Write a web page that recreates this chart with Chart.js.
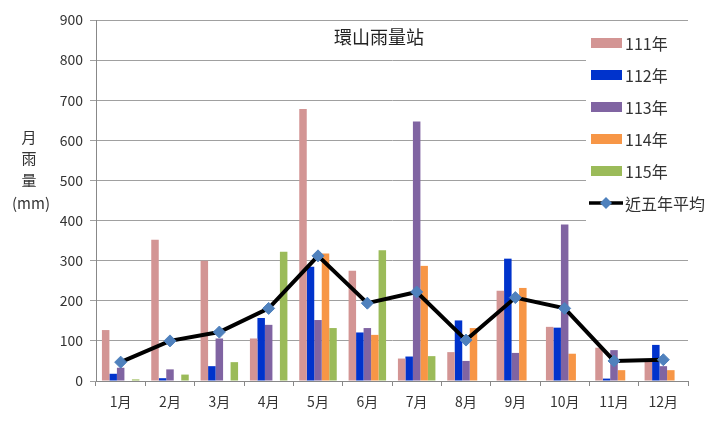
<!DOCTYPE html>
<html>
<head>
<meta charset="utf-8">
<script src="https://cdn.jsdelivr.net/npm/chart.js@4/dist/chart.umd.min.js"></script>
<style>
html,body{margin:0;padding:0;background:#fff;}
#wrap{width:710px;height:426px;position:relative;}
</style>
</head>
<body>
<div id="wrap"><canvas id="c" width="710" height="426"></canvas></div>
<script>
const months = ["1月","2月","3月","4月","5月","6月","7月","8月","9月","10月","11月","12月"];
const y111 = [127, 352, 300, 106, 678, 275, 56, 72, 225, 135, 83, 50];
const y112 = [18, 7, 37, 157, 285, 121, 61, 151, 305, 133, 6, 90];
const y113 = [33, 29, 106, 140, 152, 132, 647, 50, 70, 390, 77, 37];
const y114 = [0, 0, 0, 0, 318, 115, 287, 132, 232, 68, 27, 27];
const y115 = [4, 16, 47, 322, 132, 326, 62, 0, 0, 0, 0, 0];
const avg5 = [47, 100, 122, 181, 312, 194, 222, 102, 208, 181, 50, 53];
const yTicks = [0,100,200,300,400,500,600,700,800,900];
const chartTitle = "環山雨量站";
const yTitle = ["月","雨","量","(mm)"];

const colors = {y111:"#D39594", y112:"#0033CC", y113:"#8064A2", y114:"#F79646", y115:"#9BBB59", avg:"#000000", marker:"#4F81BD"};
const FONT = "'Noto Sans CJK TC','Noto Sans',sans-serif";

const legendItems = [
  {text:"111年", color:colors.y111, type:"bar"},
  {text:"112年", color:colors.y112, type:"bar"},
  {text:"113年", color:colors.y113, type:"bar"},
  {text:"114年", color:colors.y114, type:"bar"},
  {text:"115年", color:colors.y115, type:"bar"},
  {text:"近五年平均", color:colors.avg, type:"line"}
];

const decor = {
  id:"decor",
  afterDraw(chart){
    const ctx = chart.ctx, a = chart.chartArea;
    ctx.save();
    ctx.fillStyle = "#222";
    ctx.font = "18px " + FONT;
    ctx.textAlign = "center";
    ctx.textBaseline = "middle";
    ctx.fillText(chartTitle, 379, 37);
    ctx.font = "15px " + FONT;
    ctx.fillStyle = "#333";
    const ys = [137, 158, 180, 203];
    yTitle.forEach((t,i)=>{ ctx.fillText(t, i===3 ? 31 : 29, ys[i]); });
    ctx.fillStyle = "#fff";
    ctx.fillRect(586, 26, a.right - 586 + 1, 204);
    ctx.textAlign = "left";
    ctx.font = "16px " + FONT;
    legendItems.forEach((it,i)=>{
      const y = 43 + i*32;
      if(it.type==="bar"){
        ctx.fillStyle = it.color;
        ctx.fillRect(591, y-5, 31, 10);
      } else {
        ctx.strokeStyle = "#000"; ctx.lineWidth = 3.5;
        ctx.beginPath(); ctx.moveTo(589, y); ctx.lineTo(623, y); ctx.stroke();
        ctx.fillStyle = colors.marker;
        ctx.beginPath(); ctx.moveTo(606, y-6); ctx.lineTo(612, y); ctx.lineTo(606, y+6); ctx.lineTo(600, y); ctx.closePath(); ctx.fill();
      }
      ctx.fillStyle = "#333";
      ctx.fillText(it.text, 625, y+1);
    });
    ctx.restore();
  }
};

const barDs = (label, data, color) => ({type:"bar", label, data, backgroundColor:color, borderWidth:0, categoryPercentage:0.76, barPercentage:1, order:2});

new Chart(document.getElementById("c"), {
  data:{
    labels: months,
    datasets:[
      {type:"line", label:"近五年平均", data:avg5, borderColor:colors.avg, borderWidth:4, pointStyle:"rectRot", pointRadius:6, pointHoverRadius:6, pointBackgroundColor:colors.marker, pointBorderColor:colors.marker, pointBorderWidth:1, tension:0, order:1},
      barDs("111年", y111, colors.y111),
      barDs("112年", y112, colors.y112),
      barDs("113年", y113, colors.y113),
      barDs("114年", y114, colors.y114),
      barDs("115年", y115, colors.y115)
    ]
  },
  options:{
    responsive:false,
    animation:false,
    layout:{padding:{left:0, right:22, top:20, bottom:0}},
    plugins:{legend:{display:false}, tooltip:{enabled:false}, title:{display:false}},
    scales:{
      x:{
        offset:true,
        grid:{display:true, drawOnChartArea:false, drawTicks:true, tickLength:5, offset:true, color:"#888"},
        border:{display:true, color:"#888", width:1},
        ticks:{font:{size:14, family:FONT}, color:"#333", padding:7, maxRotation:0},
        afterFit(s){ s.height = 45; }
      },
      y:{
        min:0, max:900,
        afterBuildTicks(s){ s.ticks = yTicks.map(v=>({value:v})); },
        grid:{color:"#A0A0A0", lineWidth:1, drawTicks:true, tickLength:6},
        border:{display:true, color:"#888", width:1},
        ticks:{font:{size:14, family:FONT}, color:"#333", padding:7},
        afterFit(s){ s.width = 96; }
      }
    }
  },
  plugins:[decor]
});
</script>
</body>
</html>
